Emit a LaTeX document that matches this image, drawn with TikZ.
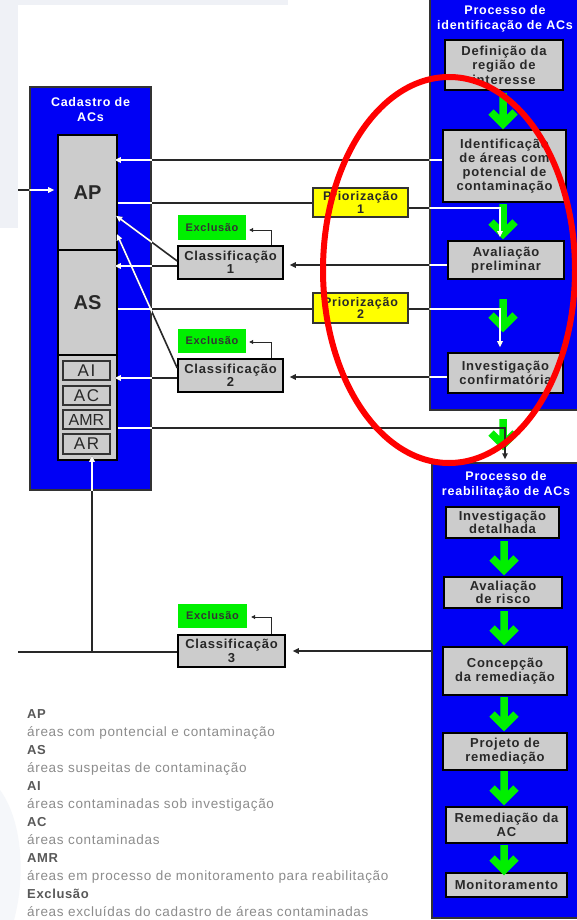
\documentclass[tikz,border=0pt]{standalone}
\usepackage{fontspec}
\setmainfont{Liberation Sans}
\newfontfamily\bxfont[LetterSpace=6]{Liberation Sans}
\newfontfamily\sbfont[LetterSpace=10]{Liberation Sans}
\newfontfamily\lgfont[LetterSpace=5]{Liberation Sans}
\usetikzlibrary{arrows.meta}
\definecolor{cblue}{RGB}{0,0,245}
\definecolor{cgreen}{RGB}{0,240,0}
\definecolor{cyellow}{RGB}{255,255,0}
\definecolor{cgray}{RGB}{204,204,204}
\definecolor{cline}{RGB}{40,40,40}
\definecolor{ctext}{RGB}{40,40,40}
\definecolor{bgc}{RGB}{239,241,246}
\newcommand\garrow[3]{\draw[garr] (#1,#2) -- (#1,#3-6) (#1-12,#3-17) -- (#1,#3-5) -- (#1+12,#3-17);}
\newcommand\myconns{%
\draw[conn,arr,shorten >=3pt] (inAP) -- (ap.west |- inAP);
\draw[conn,arr,shorten >=-3pt] (ident.west |- 0,160) -- (ap.east |- 0,160);
\draw[conn] (ap.east |- 0,203) -- (prio1.west |- 0,203);
\draw[conn,arr,shorten >=3pt] (prio1.east |- 0,208) -| (aval.north -| 500,0);
\draw[conn,arr,shorten >=6pt] (aval.west |- 0,265) -- (cls1.east |- 0,265);
\draw[conn,arr,shorten >=-3pt] (cls1.west |- 0,266) -- (as.east |- 0,266);
\draw[conn,arr,shorten >=-2pt] (cls1.west |- 0,261) -- (ap.east |- 0,217);
\draw[conn] (as.east |- 0,309) -- (prio2.west |- 0,309);
\draw[conn,arr,shorten >=5pt] (prio2.east |- 0,309) -| (invc.north -| 500,0);
\draw[conn,arr,shorten >=-2pt] (cls2.west |- 0,368) -- (ap.east |- 0,236);
\draw[conn,arr,shorten >=6pt] (invc.west |- 0,377) -- (cls2.east |- 0,377);
\draw[conn,arr,shorten >=-3pt] (cls2.west |- 0,378) -- (low.east |- 0,378);
\draw[conn,arr,shorten >=3pt] (low.east |- 0,428) -| (rehab.north -| 505,0);
\draw[conn,arr,shorten >=7pt] (rehab.west |- 0,651) -- (cls3.east |- 0,651);
\draw[conn] (cls3.west |- 0,652) -- (left3);
\draw[conn,arr,shorten >=-5pt] (j3) -- (low.south -| j3);
\draw[xconn] (cls1.north -| 271,0) |- ([xshift=3pt]exc1.east |- 0,230);
\draw[xconn] (cls2.north -| 271,0) |- ([xshift=3pt]exc2.east |- 0,342);
\draw[xconn] (cls3.north -| 271,0) |- ([xshift=4pt]exc3.east |- 0,617);
}
\begin{document}
\begin{tikzpicture}[x=1pt,y=-1pt,
  bluebox/.style={fill=cblue, draw=black!80, line width=1.5pt, inner sep=0pt},
  ttl/.style={text=white, font=\bxfont\bfseries\fontsize{12.5}{15}\selectfont, align=center, inner sep=0pt},
  ibox/.style={fill=cgray, draw=black, line width=1.6pt, inner sep=0pt, align=center, text=ctext, font=\bxfont\bfseries\fontsize{13}{14.5}\selectfont},
  colbox/.style={fill=cgray, draw=black, line width=1.6pt, inner sep=0pt, text=ctext, font=\bfseries\fontsize{20}{20}\selectfont},
  subbox/.style={fill=cgray, draw=black!80, line width=1.2pt, inner sep=0pt, text=ctext, font=\sbfont\fontsize{17}{17}\selectfont},
  pbox/.style={fill=cyellow, draw=black!80, line width=1.4pt, inner sep=0pt, align=center, text=ctext, font=\bxfont\bfseries\fontsize{12.5}{12.5}\selectfont},
  cbox/.style={ibox, font=\bxfont\bfseries\fontsize{13}{13.5}\selectfont},
  xbox/.style={fill=cgreen, draw=none, inner sep=0pt, text=black!80, font=\bxfont\bfseries\fontsize{11}{12}\selectfont},
  conn/.style={draw=cline, line width=1.6pt},
  xconn/.style={draw=cline, line width=0.9pt, -{Triangle[length=4pt,width=4pt]}},
  arr/.style={-{Triangle[length=6pt,width=5.5pt]}},
  garr/.style={draw=cgreen, line width=7.5pt, line join=miter},
  lgk/.style={anchor=base west, inner sep=0pt, text=black!65, font=\lgfont\bfseries\fontsize{13}{13}\selectfont},
  lgd/.style={anchor=base west, inner sep=0pt, text=black!45, font=\lgfont\fontsize{13.5}{13.5}\selectfont},
]
\useasboundingbox (0,0) rectangle (577,920);
\clip (0,0) rectangle (577,920);
% background
\fill[white] (0,0) rectangle (577,920);
\fill[bgc] (0,0) rectangle (288,5);
\fill[bgc] (0,0) rectangle (18,228);
\fill[bgc!60] (0,790) .. controls (22,820) and (26,875) .. (14,920) -- (0,920) -- cycle;

% blue containers
\node[bluebox, minimum width=121, minimum height=403] (cad) at (90.5,288.5) {};
\node[bluebox, minimum width=160, minimum height=415] (idp) at (510,202.5) {};
\node[bluebox, minimum width=158, minimum height=455] (rehab) at (511,690.5) {};
\node[ttl] (cadt) at (90.5,110) {Cadastro de\\ACs};
\node[ttl] (idpt) at (505,19) {Processo de\\identificação de ACs};
\node[ttl] (rehabt) at (506,484.5) {Processo de\\reabilitação de ACs};

% column
\node[colbox, minimum width=59, minimum height=115] (ap) at (87.5,192.5) {AP};
\node[colbox, minimum width=59, minimum height=105] (as) at (87.5,302.5) {AS};
\node[colbox, minimum width=59, minimum height=105] (low) at (87.5,407.5) {};
\node[subbox, minimum width=47, minimum height=19] (ai) at (86.5,370.5) {AI};
\node[subbox, minimum width=47, minimum height=19] (ac) at (86.5,395.5) {AC};
\node[subbox, minimum width=47, minimum height=19, font=\fontsize{16}{16}\selectfont] (amr) at (86.5,419.5) {AMR};
\node[subbox, minimum width=47, minimum height=20] (ar) at (86.5,444) {AR};

% identification process
\node[ibox, minimum width=118, minimum height=50] (def) at (504,65) {Definição da\\região de\\interesse};
\node[ibox, minimum width=123, minimum height=72, font=\bxfont\bfseries\fontsize{13}{14}\selectfont] (ident) at (504.5,166) {Identificação\\de áreas com\\potencial de\\contaminação};
\node[ibox, minimum width=116, minimum height=38] (aval) at (506,260) {Avaliação\\preliminar};
\node[ibox, minimum width=115, minimum height=40] (invc) at (505.5,373) {Investigação\\confirmatória};

% rehabilitation process
\node[ibox, minimum width=113, minimum height=31, font=\bxfont\bfseries\fontsize{13}{13}\selectfont] (idet) at (502.5,522.5) {Investigação\\detalhada};
\node[ibox, minimum width=118, minimum height=31, font=\bxfont\bfseries\fontsize{13}{13}\selectfont] (arisk) at (503,592.5) {Avaliação\\de risco};
\node[ibox, minimum width=124, minimum height=48] (conc) at (505,671) {Concepção\\da remediação};
\node[ibox, minimum width=124, minimum height=37, font=\bxfont\bfseries\fontsize{13}{14}\selectfont] (proj) at (505,751.5) {Projeto de\\remediação};
\node[ibox, minimum width=121, minimum height=36, font=\bxfont\bfseries\fontsize{13}{14}\selectfont] (remac) at (506.5,825) {Remediação da\\AC};
\node[ibox, minimum width=121, minimum height=24] (mon) at (506.5,885) {Monitoramento};

% priorization, classification, exclusion
\node[pbox, minimum width=95, minimum height=29] (prio1) at (360.5,202.5) {Priorização\\1};
\node[pbox, minimum width=95, minimum height=30] (prio2) at (360.5,308) {Priorização\\2};
\node[cbox, minimum width=105, minimum height=33] (cls1) at (230.5,262.5) {Classificação\\1};
\node[cbox, minimum width=105, minimum height=33] (cls2) at (230.5,375.5) {Classificação\\2};
\node[cbox, minimum width=107, minimum height=32] (cls3) at (231.5,651) {Classificação\\3};
\node[xbox, minimum width=68, minimum height=25] (exc1) at (212,227.5) {Exclusão};
\node[xbox, minimum width=68, minimum height=24] (exc2) at (212,341) {Exclusão};
\node[xbox, minimum width=69, minimum height=24] (exc3) at (212.5,616) {Exclusão};

% green flow arrows
\garrow{503}{93}{129}
\garrow{503}{204}{239}
\garrow{503}{299}{332}
\garrow{503}{419}{450}
\garrow{504}{541}{575}
\garrow{504}{611}{645}
\garrow{504}{697}{731}
\garrow{504}{771}{805}
\garrow{504}{845}{875}

% connectors
\coordinate (inAP) at (18,190);
\coordinate (left3) at (18,652);
\coordinate (j3) at (92,652);
\myconns
\begin{scope}[conn/.style={draw=white, line width=1.6pt}]
\clip (cad.north west) rectangle (cad.south east)
      (idp.north west) rectangle (idp.south east)
      (rehab.north west) rectangle (rehab.south east);
\myconns
\end{scope}

% highlight
\draw[red, line width=6pt] (449,270) ellipse [x radius=126, y radius=193];

% legend
\node[lgk] (l1) at (27,718) {AP};
\node[lgd] (l2) at (27,736) {áreas com pontencial e contaminação};
\node[lgk] (l3) at (27,754) {AS};
\node[lgd] (l4) at (27,772) {áreas suspeitas de contaminação};
\node[lgk] (l5) at (27,790) {AI};
\node[lgd] (l6) at (27,808) {áreas contaminadas sob investigação};
\node[lgk] (l7) at (27,826) {AC};
\node[lgd] (l8) at (27,844) {áreas contaminadas};
\node[lgk] (l9) at (27,862) {AMR};
\node[lgd] (l10) at (27,880) {áreas em processo de monitoramento para reabilitação};
\node[lgk] (l11) at (27,898) {Exclusão};
\node[lgd] (l12) at (27,916.5) {áreas excluídas do cadastro de áreas contaminadas};
\end{tikzpicture}
\end{document}
